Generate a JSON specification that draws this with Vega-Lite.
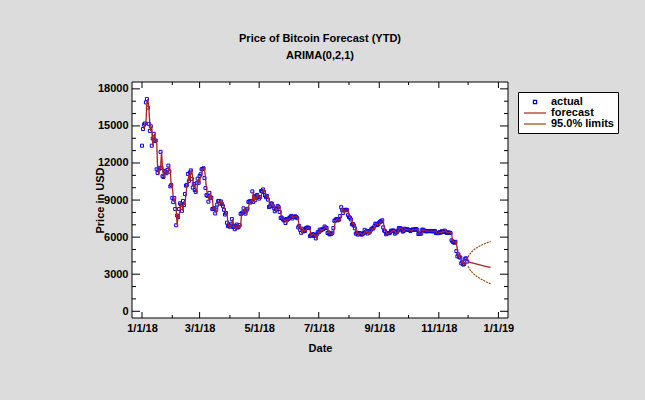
{
"$schema": "https://vega.github.io/schema/vega-lite/v6.json",
"width": 376, "height": 236,
"autosize": {"type": "none"},
"padding": {"left": 132, "top": 82, "right": 137, "bottom": 82},
"background": "#DCDCDC",
"title": {"text": "Price of Bitcoin Forecast (YTD)", "subtitle": "ARIMA(0,2,1)", "anchor": "middle", "frame": "group", "font": "Liberation Sans", "fontSize": 11, "fontWeight": "bold", "color": "black", "subtitleFont": "Liberation Sans", "subtitleFontSize": 11, "subtitleFontWeight": "bold", "subtitleColor": "black", "offset": 21, "subtitlePadding": 6},
"data": {"values": [
{"d":"2018-01-01","a":13400},
{"d":"2018-01-02","a":14750},
{"d":"2018-01-03","a":15100,"f":14750},
{"d":"2018-01-04","a":15200,"f":15100},
{"d":"2018-01-05","a":16900,"f":15200},
{"d":"2018-01-06","a":17170,"f":16900},
{"d":"2018-01-07","a":16480,"f":17170},
{"d":"2018-01-08","a":15170,"f":16480},
{"d":"2018-01-09","a":14600,"f":15170},
{"d":"2018-01-10","a":14970,"f":14600},
{"d":"2018-01-11","a":13400,"f":14970},
{"d":"2018-01-12","a":13980,"f":13400},
{"d":"2018-01-13","a":14360,"f":13980},
{"d":"2018-01-14","a":13770,"f":14360},
{"d":"2018-01-15","a":13820,"f":13770},
{"d":"2018-01-16","a":11490,"f":13820},
{"d":"2018-01-17","a":11190,"f":11490},
{"d":"2018-01-18","a":11470,"f":11190},
{"d":"2018-01-19","a":11610,"f":11470},
{"d":"2018-01-20","a":12900,"f":11610},
{"d":"2018-01-21","a":11600,"f":12900},
{"d":"2018-01-22","a":10930,"f":11600},
{"d":"2018-01-23","a":10870,"f":10930},
{"d":"2018-01-24","a":11360,"f":10870},
{"d":"2018-01-25","a":11260,"f":11360},
{"d":"2018-01-26","a":11170,"f":11260},
{"d":"2018-01-27","a":11440,"f":11170},
{"d":"2018-01-28","a":11790,"f":11440},
{"d":"2018-01-29","a":11300,"f":11790},
{"d":"2018-01-30","a":10110,"f":11300},
{"d":"2018-01-31","a":10220,"f":10110},
{"d":"2018-02-01","a":9170,"f":10220},
{"d":"2018-02-02","a":8830,"f":9170},
{"d":"2018-02-03","a":9170,"f":8830},
{"d":"2018-02-04","a":8280,"f":9170},
{"d":"2018-02-05","a":6960,"f":8280},
{"d":"2018-02-06","a":7750,"f":6960},
{"d":"2018-02-07","a":7620,"f":7750},
{"d":"2018-02-08","a":8270,"f":7620},
{"d":"2018-02-09","a":8740,"f":8270},
{"d":"2018-02-10","a":8620,"f":8740},
{"d":"2018-02-11","a":8130,"f":8620},
{"d":"2018-02-12","a":8930,"f":8130},
{"d":"2018-02-13","a":8600,"f":8930},
{"d":"2018-02-14","a":9490,"f":8600},
{"d":"2018-02-15","a":10170,"f":9490},
{"d":"2018-02-16","a":10230,"f":10170},
{"d":"2018-02-17","a":11110,"f":10230},
{"d":"2018-02-18","a":10550,"f":11110},
{"d":"2018-02-19","a":11230,"f":10550},
{"d":"2018-02-20","a":11400,"f":11230},
{"d":"2018-02-21","a":10690,"f":11400},
{"d":"2018-02-22","a":10010,"f":10690},
{"d":"2018-02-23","a":10300,"f":10010},
{"d":"2018-02-24","a":9810,"f":10300},
{"d":"2018-02-25","a":9660,"f":9810},
{"d":"2018-02-26","a":10370,"f":9660},
{"d":"2018-02-27","a":10730,"f":10370},
{"d":"2018-02-28","a":10400,"f":10730},
{"d":"2018-03-01","a":10950,"f":10400},
{"d":"2018-03-02","a":11090,"f":10950},
{"d":"2018-03-03","a":11490,"f":11090},
{"d":"2018-03-04","a":11510,"f":11490},
{"d":"2018-03-05","a":11570,"f":11510},
{"d":"2018-03-06","a":10780,"f":11570},
{"d":"2018-03-07","a":9970,"f":10780},
{"d":"2018-03-08","a":9400,"f":9970},
{"d":"2018-03-09","a":9340,"f":9400},
{"d":"2018-03-10","a":8870,"f":9340},
{"d":"2018-03-11","a":9580,"f":8870},
{"d":"2018-03-12","a":9210,"f":9580},
{"d":"2018-03-13","a":9190,"f":9210},
{"d":"2018-03-14","a":8270,"f":9190},
{"d":"2018-03-15","a":8300,"f":8270},
{"d":"2018-03-16","a":8340,"f":8300},
{"d":"2018-03-17","a":7920,"f":8340},
{"d":"2018-03-18","a":8220,"f":7920},
{"d":"2018-03-19","a":8630,"f":8220},
{"d":"2018-03-20","a":8910,"f":8630},
{"d":"2018-03-21","a":8930,"f":8910},
{"d":"2018-03-22","a":8730,"f":8930},
{"d":"2018-03-23","a":8880,"f":8730},
{"d":"2018-03-24","a":8670,"f":8880},
{"d":"2018-03-25","a":8500,"f":8670},
{"d":"2018-03-26","a":8210,"f":8500},
{"d":"2018-03-27","a":7830,"f":8210},
{"d":"2018-03-28","a":7950,"f":7830},
{"d":"2018-03-29","a":7170,"f":7950},
{"d":"2018-03-30","a":6890,"f":7170},
{"d":"2018-03-31","a":6970,"f":6890},
{"d":"2018-04-01","a":6840,"f":6970},
{"d":"2018-04-02","a":7080,"f":6840},
{"d":"2018-04-03","a":7460,"f":7080},
{"d":"2018-04-04","a":6850,"f":7460},
{"d":"2018-04-05","a":6810,"f":6850},
{"d":"2018-04-06","a":6640,"f":6810},
{"d":"2018-04-07","a":6910,"f":6640},
{"d":"2018-04-08","a":7020,"f":6910},
{"d":"2018-04-09","a":6770,"f":7020},
{"d":"2018-04-10","a":6830,"f":6770},
{"d":"2018-04-11","a":6970,"f":6830},
{"d":"2018-04-12","a":7890,"f":6970},
{"d":"2018-04-13","a":7900,"f":7890},
{"d":"2018-04-14","a":7990,"f":7900},
{"d":"2018-04-15","a":8330,"f":7990},
{"d":"2018-04-16","a":8060,"f":8330},
{"d":"2018-04-17","a":7900,"f":8060},
{"d":"2018-04-18","a":8160,"f":7900},
{"d":"2018-04-19","a":8290,"f":8160},
{"d":"2018-04-20","a":8850,"f":8290},
{"d":"2018-04-21","a":8900,"f":8850},
{"d":"2018-04-22","a":8800,"f":8900},
{"d":"2018-04-23","a":8930,"f":8800},
{"d":"2018-04-24","a":9700,"f":8930},
{"d":"2018-04-25","a":8850,"f":9700},
{"d":"2018-04-26","a":9280,"f":8850},
{"d":"2018-04-27","a":8990,"f":9280},
{"d":"2018-04-28","a":9350,"f":8990},
{"d":"2018-04-29","a":9420,"f":9350},
{"d":"2018-04-30","a":9240,"f":9420},
{"d":"2018-05-01","a":9120,"f":9240},
{"d":"2018-05-02","a":9240,"f":9120},
{"d":"2018-05-03","a":9740,"f":9240},
{"d":"2018-05-04","a":9700,"f":9740},
{"d":"2018-05-05","a":9860,"f":9700},
{"d":"2018-05-06","a":9650,"f":9860},
{"d":"2018-05-07","a":9370,"f":9650},
{"d":"2018-05-08","a":9230,"f":9370},
{"d":"2018-05-09","a":9330,"f":9230},
{"d":"2018-05-10","a":9040,"f":9330},
{"d":"2018-05-11","a":8440,"f":9040},
{"d":"2018-05-12","a":8500,"f":8440},
{"d":"2018-05-13","a":8720,"f":8500},
{"d":"2018-05-14","a":8720,"f":8720},
{"d":"2018-05-15","a":8510,"f":8720},
{"d":"2018-05-16","a":8370,"f":8510},
{"d":"2018-05-17","a":8090,"f":8370},
{"d":"2018-05-18","a":8250,"f":8090},
{"d":"2018-05-19","a":8250,"f":8250},
{"d":"2018-05-20","a":8510,"f":8250},
{"d":"2018-05-21","a":8420,"f":8510},
{"d":"2018-05-22","a":8040,"f":8420},
{"d":"2018-05-23","a":7560,"f":8040},
{"d":"2018-05-24","a":7590,"f":7560},
{"d":"2018-05-25","a":7480,"f":7590},
{"d":"2018-05-26","a":7360,"f":7480},
{"d":"2018-05-27","a":7370,"f":7360},
{"d":"2018-05-28","a":7140,"f":7370},
{"d":"2018-05-29","a":7470,"f":7140},
{"d":"2018-05-30","a":7410,"f":7470},
{"d":"2018-05-31","a":7490,"f":7410},
{"d":"2018-06-01","a":7540,"f":7490},
{"d":"2018-06-02","a":7640,"f":7540},
{"d":"2018-06-03","a":7720,"f":7640},
{"d":"2018-06-04","a":7510,"f":7720},
{"d":"2018-06-05","a":7630,"f":7510},
{"d":"2018-06-06","a":7650,"f":7630},
{"d":"2018-06-07","a":7680,"f":7650},
{"d":"2018-06-08","a":7620,"f":7680},
{"d":"2018-06-09","a":7530,"f":7620},
{"d":"2018-06-10","a":6790,"f":7530},
{"d":"2018-06-11","a":6910,"f":6790},
{"d":"2018-06-12","a":6580,"f":6910},
{"d":"2018-06-13","a":6350,"f":6580},
{"d":"2018-06-14","a":6680,"f":6350},
{"d":"2018-06-15","a":6460,"f":6680},
{"d":"2018-06-16","a":6550,"f":6460},
{"d":"2018-06-17","a":6500,"f":6550},
{"d":"2018-06-18","a":6730,"f":6500},
{"d":"2018-06-19","a":6770,"f":6730},
{"d":"2018-06-20","a":6780,"f":6770},
{"d":"2018-06-21","a":6730,"f":6780},
{"d":"2018-06-22","a":6080,"f":6730},
{"d":"2018-06-23","a":6160,"f":6080},
{"d":"2018-06-24","a":6170,"f":6160},
{"d":"2018-06-25","a":6250,"f":6170},
{"d":"2018-06-26","a":6090,"f":6250},
{"d":"2018-06-27","a":6160,"f":6090},
{"d":"2018-06-28","a":5900,"f":6160},
{"d":"2018-06-29","a":6220,"f":5900},
{"d":"2018-06-30","a":6400,"f":6220},
{"d":"2018-07-01","a":6390,"f":6400},
{"d":"2018-07-02","a":6610,"f":6390},
{"d":"2018-07-03","a":6530,"f":6610},
{"d":"2018-07-04","a":6600,"f":6530},
{"d":"2018-07-05","a":6640,"f":6600},
{"d":"2018-07-06","a":6670,"f":6640},
{"d":"2018-07-07","a":6860,"f":6670},
{"d":"2018-07-08","a":6770,"f":6860},
{"d":"2018-07-09","a":6740,"f":6770},
{"d":"2018-07-10","a":6330,"f":6740},
{"d":"2018-07-11","a":6390,"f":6330},
{"d":"2018-07-12","a":6230,"f":6390},
{"d":"2018-07-13","a":6240,"f":6230},
{"d":"2018-07-14","a":6280,"f":6240},
{"d":"2018-07-15","a":6360,"f":6280},
{"d":"2018-07-16","a":6740,"f":6360},
{"d":"2018-07-17","a":7320,"f":6740},
{"d":"2018-07-18","a":7370,"f":7320},
{"d":"2018-07-19","a":7470,"f":7370},
{"d":"2018-07-20","a":7350,"f":7470},
{"d":"2018-07-21","a":7420,"f":7350},
{"d":"2018-07-22","a":7420,"f":7420},
{"d":"2018-07-23","a":7710,"f":7420},
{"d":"2018-07-24","a":8420,"f":7710},
{"d":"2018-07-25","a":8180,"f":8420},
{"d":"2018-07-26","a":7950,"f":8180},
{"d":"2018-07-27","a":8170,"f":7950},
{"d":"2018-07-28","a":8190,"f":8170},
{"d":"2018-07-29","a":8220,"f":8190},
{"d":"2018-07-30","a":8180,"f":8220},
{"d":"2018-07-31","a":7780,"f":8180},
{"d":"2018-08-01","a":7620,"f":7780},
{"d":"2018-08-02","a":7570,"f":7620},
{"d":"2018-08-03","a":7430,"f":7570},
{"d":"2018-08-04","a":7030,"f":7430},
{"d":"2018-08-05","a":7070,"f":7030},
{"d":"2018-08-06","a":6950,"f":7070},
{"d":"2018-08-07","a":6710,"f":6950},
{"d":"2018-08-08","a":6280,"f":6710},
{"d":"2018-08-09","a":6370,"f":6280},
{"d":"2018-08-10","a":6200,"f":6370},
{"d":"2018-08-11","a":6310,"f":6200},
{"d":"2018-08-12","a":6330,"f":6310},
{"d":"2018-08-13","a":6260,"f":6330},
{"d":"2018-08-14","a":6200,"f":6260},
{"d":"2018-08-15","a":6270,"f":6200},
{"d":"2018-08-16","a":6320,"f":6270},
{"d":"2018-08-17","a":6590,"f":6320},
{"d":"2018-08-18","a":6400,"f":6590},
{"d":"2018-08-19","a":6490,"f":6400},
{"d":"2018-08-20","a":6300,"f":6490},
{"d":"2018-08-21","a":6490,"f":6300},
{"d":"2018-08-22","a":6380,"f":6490},
{"d":"2018-08-23","a":6530,"f":6380},
{"d":"2018-08-24","a":6670,"f":6530},
{"d":"2018-08-25","a":6710,"f":6670},
{"d":"2018-08-26","a":6710,"f":6710},
{"d":"2018-08-27","a":6880,"f":6710},
{"d":"2018-08-28","a":7090,"f":6880},
{"d":"2018-08-29","a":7050,"f":7090},
{"d":"2018-08-30","a":6980,"f":7050},
{"d":"2018-08-31","a":7040,"f":6980},
{"d":"2018-09-01","a":7190,"f":7040},
{"d":"2018-09-02","a":7270,"f":7190},
{"d":"2018-09-03","a":7260,"f":7270},
{"d":"2018-09-04","a":7360,"f":7260},
{"d":"2018-09-05","a":6790,"f":7360},
{"d":"2018-09-06","a":6530,"f":6790},
{"d":"2018-09-07","a":6470,"f":6530},
{"d":"2018-09-08","a":6230,"f":6470},
{"d":"2018-09-09","a":6300,"f":6230},
{"d":"2018-09-10","a":6330,"f":6300},
{"d":"2018-09-11","a":6320,"f":6330},
{"d":"2018-09-12","a":6350,"f":6320},
{"d":"2018-09-13","a":6520,"f":6350},
{"d":"2018-09-14","a":6510,"f":6520},
{"d":"2018-09-15","a":6540,"f":6510},
{"d":"2018-09-16","a":6520,"f":6540},
{"d":"2018-09-17","a":6280,"f":6520},
{"d":"2018-09-18","a":6370,"f":6280},
{"d":"2018-09-19","a":6400,"f":6370},
{"d":"2018-09-20","a":6520,"f":6400},
{"d":"2018-09-21","a":6730,"f":6520},
{"d":"2018-09-22","a":6720,"f":6730},
{"d":"2018-09-23","a":6710,"f":6720},
{"d":"2018-09-24","a":6600,"f":6710},
{"d":"2018-09-25","a":6450,"f":6600},
{"d":"2018-09-26","a":6500,"f":6450},
{"d":"2018-09-27","a":6680,"f":6500},
{"d":"2018-09-28","a":6640,"f":6680},
{"d":"2018-09-29","a":6600,"f":6640},
{"d":"2018-09-30","a":6630,"f":6600},
{"d":"2018-10-01","a":6590,"f":6630},
{"d":"2018-10-02","a":6560,"f":6590},
{"d":"2018-10-03","a":6500,"f":6560},
{"d":"2018-10-04","a":6580,"f":6500},
{"d":"2018-10-05","a":6620,"f":6580},
{"d":"2018-10-06","a":6590,"f":6620},
{"d":"2018-10-07","a":6600,"f":6590},
{"d":"2018-10-08","a":6650,"f":6600},
{"d":"2018-10-09","a":6640,"f":6650},
{"d":"2018-10-10","a":6590,"f":6640},
{"d":"2018-10-11","a":6260,"f":6590},
{"d":"2018-10-12","a":6270,"f":6260},
{"d":"2018-10-13","a":6290,"f":6270},
{"d":"2018-10-14","a":6290,"f":6290},
{"d":"2018-10-15","a":6600,"f":6290},
{"d":"2018-10-16","a":6600,"f":6600},
{"d":"2018-10-17","a":6540,"f":6600},
{"d":"2018-10-18","a":6480,"f":6540},
{"d":"2018-10-19","a":6470,"f":6480},
{"d":"2018-10-20","a":6490,"f":6470},
{"d":"2018-10-21","a":6480,"f":6490},
{"d":"2018-10-22","a":6490,"f":6480},
{"d":"2018-10-23","a":6480,"f":6490},
{"d":"2018-10-24","a":6500,"f":6480},
{"d":"2018-10-25","a":6480,"f":6500},
{"d":"2018-10-26","a":6470,"f":6480},
{"d":"2018-10-27","a":6480,"f":6470},
{"d":"2018-10-28","a":6490,"f":6480},
{"d":"2018-10-29","a":6330,"f":6490},
{"d":"2018-10-30","a":6330,"f":6330},
{"d":"2018-10-31","a":6320,"f":6330},
{"d":"2018-11-01","a":6380,"f":6320},
{"d":"2018-11-02","a":6390,"f":6380},
{"d":"2018-11-03","a":6360,"f":6390},
{"d":"2018-11-04","a":6490,"f":6360},
{"d":"2018-11-05","a":6420,"f":6490},
{"d":"2018-11-06","a":6460,"f":6420},
{"d":"2018-11-07","a":6530,"f":6460},
{"d":"2018-11-08","a":6420,"f":6530},
{"d":"2018-11-09","a":6340,"f":6420},
{"d":"2018-11-10","a":6370,"f":6340},
{"d":"2018-11-11","a":6370,"f":6370},
{"d":"2018-11-12","a":6360,"f":6370},
{"d":"2018-11-13","a":6330,"f":6360},
{"d":"2018-11-14","a":5740,"f":6330},
{"d":"2018-11-15","a":5650,"f":5740},
{"d":"2018-11-16","a":5580,"f":5650},
{"d":"2018-11-17","a":5550,"f":5580},
{"d":"2018-11-18","a":5620,"f":5550},
{"d":"2018-11-19","a":4870,"f":5620},
{"d":"2018-11-20","a":4450,"f":4870},
{"d":"2018-11-21","a":4600,"f":4450},
{"d":"2018-11-22","a":4370,"f":4600},
{"d":"2018-11-23","a":4350,"f":4370},
{"d":"2018-11-24","a":3880,"f":4350},
{"d":"2018-11-25","a":4010,"f":3880},
{"d":"2018-11-26","a":3780,"f":4010},
{"d":"2018-11-27","a":3820,"f":3780},
{"d":"2018-11-28","a":4260,"f":3820},
{"d":"2018-11-29","a":4280,"f":4260},
{"d":"2018-11-30","a":4020,"f":4280},
{"d":"2018-12-01","f":3990,"u":4388,"l":3628},
{"d":"2018-12-02","f":3970,"u":4540,"l":3470},
{"d":"2018-12-03","f":3949,"u":4655,"l":3350},
{"d":"2018-12-04","f":3929,"u":4751,"l":3249},
{"d":"2018-12-05","f":3909,"u":4834,"l":3161},
{"d":"2018-12-06","f":3889,"u":4908,"l":3082},
{"d":"2018-12-07","f":3869,"u":4974,"l":3009},
{"d":"2018-12-08","f":3849,"u":5036,"l":2942},
{"d":"2018-12-09","f":3829,"u":5092,"l":2879},
{"d":"2018-12-10","f":3809,"u":5144,"l":2821},
{"d":"2018-12-11","f":3790,"u":5194,"l":2766},
{"d":"2018-12-12","f":3770,"u":5239,"l":2713},
{"d":"2018-12-13","f":3751,"u":5283,"l":2663},
{"d":"2018-12-14","f":3732,"u":5325,"l":2615},
{"d":"2018-12-15","f":3712,"u":5363,"l":2569},
{"d":"2018-12-16","f":3693,"u":5400,"l":2525},
{"d":"2018-12-17","f":3674,"u":5436,"l":2483},
{"d":"2018-12-18","f":3656,"u":5470,"l":2443},
{"d":"2018-12-19","f":3637,"u":5503,"l":2404},
{"d":"2018-12-20","f":3618,"u":5533,"l":2366},
{"d":"2018-12-21","f":3600,"u":5563,"l":2329},
{"d":"2018-12-22","f":3581,"u":5591,"l":2293},
{"d":"2018-12-23","f":3563,"u":5619,"l":2259},
{"d":"2018-12-24","f":3544,"u":5645,"l":2225}
]},
"datasets": {
"xmajor": [{"t":"2018-01-01"},{"t":"2018-03-01"},{"t":"2018-05-01"},{"t":"2018-07-01"},{"t":"2018-09-01"},{"t":"2018-11-01"},{"t":"2019-01-01"}],
"xminor": [{"t":"2018-02-01"},{"t":"2018-04-01"},{"t":"2018-06-01"},{"t":"2018-08-01"},{"t":"2018-10-01"},{"t":"2018-12-01"}],
"ymajor": [{"v":0},{"v":3000},{"v":6000},{"v":9000},{"v":12000},{"v":15000},{"v":18000}],
"yminor": [{"v":1000},{"v":2000},{"v":4000},{"v":5000},{"v":7000},{"v":8000},{"v":10000},{"v":11000},{"v":13000},{"v":14000},{"v":16000},{"v":17000}]
},
"layer": [
{
"data": {"values": [{}]},
"mark": {"type": "rect", "fill": "white", "stroke": "black", "strokeWidth": 1},
"encoding": {
"x": {"datum": {"year": 2017, "month": 12, "date": 21, "hours": 18, "utc": true}, "type": "temporal", "axis": null},
"x2": {"datum": {"year": 2019, "month": 1, "date": 10, "hours": 20, "utc": true}},
"y": {"datum": -545, "type": "quantitative", "axis": null},
"y2": {"datum": 18555}
}
},
{
"data": {"name": "xmajor"},
"mark": {"type": "rule", "color": "black", "strokeWidth": 1, "y2Offset": -6},
"encoding": {"x": {"field": "t", "type": "temporal", "axis": null}, "y": {"datum": -545, "type": "quantitative", "axis": null}, "y2": {"datum": -545}}
},
{
"data": {"name": "xminor"},
"mark": {"type": "rule", "color": "black", "strokeWidth": 1, "y2Offset": -3},
"encoding": {"x": {"field": "t", "type": "temporal", "axis": null}, "y": {"datum": -545, "type": "quantitative", "axis": null}, "y2": {"datum": -545}}
},
{
"data": {"name": "xmajor"},
"mark": {"type": "rule", "color": "black", "strokeWidth": 1, "y2Offset": 6},
"encoding": {"x": {"field": "t", "type": "temporal", "axis": null}, "y": {"datum": 18555, "type": "quantitative", "axis": null}, "y2": {"datum": 18555}}
},
{
"data": {"name": "xminor"},
"mark": {"type": "rule", "color": "black", "strokeWidth": 1, "y2Offset": 3},
"encoding": {"x": {"field": "t", "type": "temporal", "axis": null}, "y": {"datum": 18555, "type": "quantitative", "axis": null}, "y2": {"datum": 18555}}
},
{
"data": {"name": "ymajor"},
"mark": {"type": "rule", "color": "black", "strokeWidth": 1, "x2Offset": 8},
"encoding": {"y": {"field": "v", "type": "quantitative", "axis": null}, "x": {"datum": {"year": 2017, "month": 12, "date": 21, "hours": 18, "utc": true}, "type": "temporal", "axis": null}, "x2": {"datum": {"year": 2017, "month": 12, "date": 21, "hours": 18, "utc": true}}}
},
{
"data": {"name": "yminor"},
"mark": {"type": "rule", "color": "black", "strokeWidth": 1, "x2Offset": 4},
"encoding": {"y": {"field": "v", "type": "quantitative", "axis": null}, "x": {"datum": {"year": 2017, "month": 12, "date": 21, "hours": 18, "utc": true}, "type": "temporal", "axis": null}, "x2": {"datum": {"year": 2017, "month": 12, "date": 21, "hours": 18, "utc": true}}}
},
{
"data": {"name": "ymajor"},
"mark": {"type": "rule", "color": "black", "strokeWidth": 1, "x2Offset": -8},
"encoding": {"y": {"field": "v", "type": "quantitative", "axis": null}, "x": {"datum": {"year": 2019, "month": 1, "date": 10, "hours": 20, "utc": true}, "type": "temporal", "axis": null}, "x2": {"datum": {"year": 2019, "month": 1, "date": 10, "hours": 20, "utc": true}}}
},
{
"data": {"name": "yminor"},
"mark": {"type": "rule", "color": "black", "strokeWidth": 1, "x2Offset": -4},
"encoding": {"y": {"field": "v", "type": "quantitative", "axis": null}, "x": {"datum": {"year": 2019, "month": 1, "date": 10, "hours": 20, "utc": true}, "type": "temporal", "axis": null}, "x2": {"datum": {"year": 2019, "month": 1, "date": 10, "hours": 20, "utc": true}}}
},
{
"transform": [{"filter": "isValid(datum.a)"}],
"mark": {"type": "point", "shape": "square", "filled": false, "size": 9, "strokeWidth": 1, "opacity": 1},
"encoding": {
"x": {"field": "d", "type": "temporal",
"scale": {"type": "utc", "nice": false, "domain": [{"year": 2017, "month": 12, "date": 21, "hours": 18, "utc": true}, {"year": 2019, "month": 1, "date": 10, "hours": 20, "utc": true}]},
"axis": {"orient": "bottom", "values": [{"year": 2018, "month": 1, "date": 1, "utc": true}, {"year": 2018, "month": 3, "date": 1, "utc": true}, {"year": 2018, "month": 5, "date": 1, "utc": true}, {"year": 2018, "month": 7, "date": 1, "utc": true}, {"year": 2018, "month": 9, "date": 1, "utc": true}, {"year": 2018, "month": 11, "date": 1, "utc": true}, {"year": 2019, "month": 1, "date": 1, "utc": true}], "labelExpr": "utcFormat(datum.value, '%-m/%-d/%y')", "ticks": true, "tickSize": 0, "tickOpacity": 0, "labelPadding": 4, "labelFlush": false, "labelOverlap": false, "title": "Date", "titleX": 188, "titleY": 33, "titleBaseline": "alphabetic"}},
"y": {"field": "a", "type": "quantitative",
"scale": {"domain": [-545, 18555], "nice": false, "zero": false},
"axis": {"orient": "left", "values": [0, 3000, 6000, 9000, 12000, 15000, 18000], "format": "d", "ticks": true, "tickSize": 0, "tickOpacity": 0, "labelPadding": 4, "labelOverlap": false, "title": "Price in USD", "titleX": -29, "titleY": 118, "titleBaseline": "alphabetic"}},
"color": {"datum": "actual", "scale": {"domain": ["actual", "forecast", "95.0% limits"], "range": ["#0000FF", "#AA2222", "#994400"]},
"legend": {"orient": "none", "legendX": 386, "legendY": 10, "title": null,
"symbolType": {"expr": "datum.label === 'actual' ? 'M-0.32,-0.32H0.32V0.32H-0.32Z' : 'M-2.2,0H2.2'"}}}
}
},
{
"transform": [{"filter": "isValid(datum.f)"}],
"mark": {"type": "line", "strokeWidth": 1.3},
"encoding": {
"x": {"field": "d", "type": "temporal", "axis": null},
"y": {"field": "f", "type": "quantitative", "axis": null},
"color": {"datum": "forecast"}
}
},
{
"transform": [{"filter": "isValid(datum.u)"}],
"mark": {"type": "line", "strokeWidth": 1.2, "strokeDash": [2, 1]},
"encoding": {
"x": {"field": "d", "type": "temporal", "axis": null},
"y": {"field": "u", "type": "quantitative", "axis": null},
"color": {"datum": "95.0% limits"}
}
},
{
"transform": [{"filter": "isValid(datum.l)"}],
"mark": {"type": "line", "strokeWidth": 1.2, "strokeDash": [2, 1]},
"encoding": {
"x": {"field": "d", "type": "temporal", "axis": null},
"y": {"field": "l", "type": "quantitative", "axis": null},
"color": {"datum": "95.0% limits"}
}
}
],
"resolve": {"axis": {"x": "independent", "y": "independent"}},
"config": {
"view": {"stroke": null, "fill": null},
"axis": {"grid": false, "domain": false, "labelFont": "Liberation Sans", "labelFontSize": 11, "labelFontWeight": "bold", "labelColor": "black", "titleFont": "Liberation Sans", "titleFontSize": 11, "titleFontWeight": "bold", "titleColor": "black"},
"legend": {"fillColor": "white", "strokeColor": "black", "padding": 4, "rowPadding": 0, "symbolSize": 100, "symbolOffset": 7, "labelOffset": 10, "labelFont": "Liberation Sans", "labelFontSize": 11, "labelFontWeight": "bold", "labelColor": "black", "symbolStrokeWidth": 1.2}
}
}
